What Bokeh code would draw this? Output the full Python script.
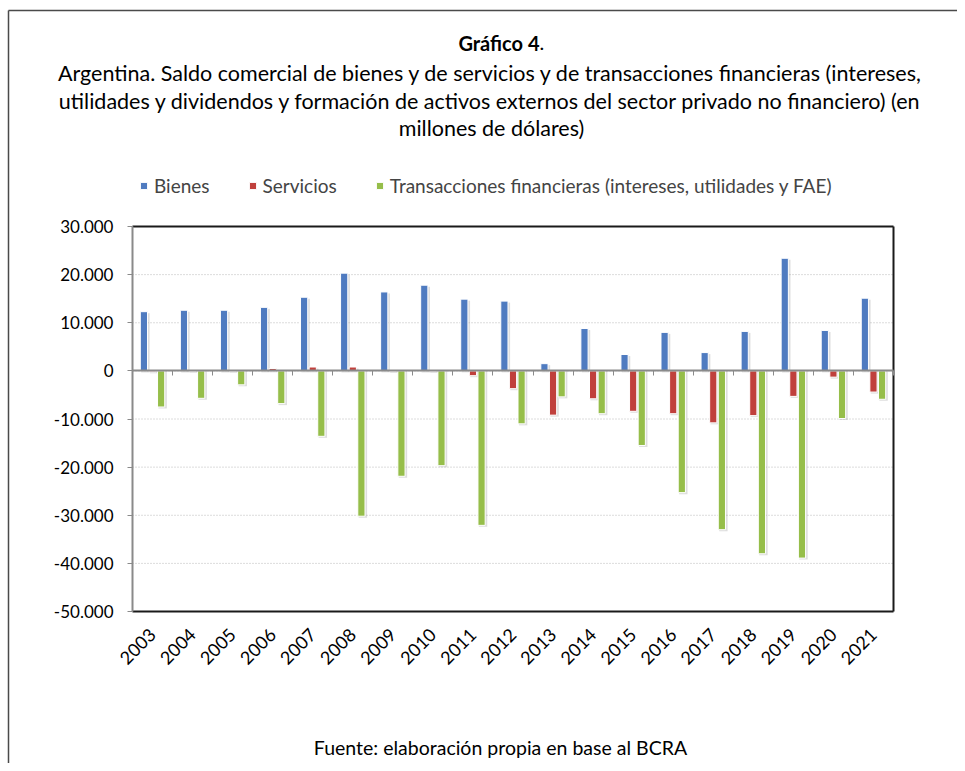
from bokeh.plotting import figure
from bokeh.models import Range1d, FixedTicker, LinearAxis, Label, Legend, LegendItem
from bokeh.embed import file_html
from bokeh.resources import INLINE

years = ["2003", "2004", "2005", "2006", "2007", "2008", "2009", "2010", "2011", "2012",
         "2013", "2014", "2015", "2016", "2017", "2018", "2019", "2020", "2021"]
bienes = [12300, 12600, 12600, 13200, 15300, 20300, 16400, 17800, 14900, 14500,
          1500, 8800, 3400, 8000, 3800, 8200, 23400, 8400, 15100]
servicios = [-200, -100, -100, 500, 800, 800, -100, -100, -1000, -3700,
             -9200, -5800, -8400, -8900, -10800, -9300, -5300, -1300, -4400]
transacciones = [-7500, -5700, -2900, -6800, -13600, -30200, -21900, -19700, -32100, -11000,
                 -5400, -8900, -15500, -25300, -33000, -38000, -38900, -9900, -5900]
y_ticks = [-50000, -40000, -30000, -20000, -10000, 0, 10000, 20000, 30000]
y_tick_labels = ["-50.000", "-40.000", "-30.000", "-20.000", "-10.000", "0",
                 "10.000", "20.000", "30.000"]
series_names = ["Bienes", "Servicios", "Transacciones financieras (intereses, utilidades y FAE)"]
colors = ["#4F7BC0", "#C0403C", "#96BE4A"]

FONT = "Lato"
W, H = 957, 763
# plot-area placement in pixels (whole canvas is the bokeh frame)
PL, PR, PT, PB = 132, 893, 226, 611
n = len(years)
ymin, ymax = y_ticks[0], y_ticks[-1]
ppc = (PR - PL) / n
upp = (ymax - ymin) / (PB - PT)

def xd(px):
    return (px - PL) / ppc

def yd(py):
    return ymax - (py - PT) * upp

p = figure(width=W, height=H, output_backend="svg", toolbar_location=None,
           x_range=Range1d(xd(0), xd(W)), y_range=Range1d(yd(H), yd(0)),
           min_border=0, min_border_left=0, min_border_right=0,
           min_border_top=0, min_border_bottom=0,
           x_axis_location=None, y_axis_location=None)
p.background_fill_color = "white"
p.border_fill_color = "white"
p.outline_line_color = None
p.xgrid.visible = False
p.ygrid.visible = False

# outer frame of the figure box (top and left edges)
p.line(x=[xd(8), xd(W + 40)], y=[yd(10), yd(10)], line_color="#4a4a4a", line_width=1.5)
p.line(x=[xd(8), xd(8)], y=[yd(10), yd(H + 40)], line_color="#4a4a4a", line_width=1.5)

# dotted horizontal grid
grid_vals = y_ticks[1:-1]
p.segment(x0=[0] * len(grid_vals), x1=[n] * len(grid_vals), y0=grid_vals, y1=grid_vals,
          line_color="#b8b8b8", line_dash="1 2", line_width=1)

# bars with soft shadow
x = list(range(n))
off = 0.215
bw = 0.18
sdx = 1.5 / ppc
for k, vals in enumerate([bienes, servicios, transacciones]):
    xs = [i + 0.5 + (k - 1) * off for i in x]
    p.vbar(x=[v + sdx for v in xs], top=[v - 1.5 * upp for v in vals],
           bottom=[-1.5 * upp if v > 0 else 0 for v in vals], width=bw + 0.03,
           fill_color="#8a8a8a", fill_alpha=0.28, line_color=None)
bar_renderers = []
for k, (vals, col) in enumerate(zip([bienes, servicios, transacciones], colors)):
    xs = [i + 0.5 + (k - 1) * off for i in x]
    bar_renderers.append(p.vbar(x=xs, top=vals, bottom=0, width=bw, fill_color=col,
                                line_color="white", line_width=1))

# plot border (top, right, bottom dark)
p.segment(x0=[0, n, 0], y0=[ymax, ymax, ymin], x1=[n, n, n], y1=[ymax, ymin, ymin],
          line_color="#1a1a1a", line_width=2)

# y axis
ya = LinearAxis(fixed_location=0, ticker=FixedTicker(ticks=y_ticks), bounds=(ymin, ymax))
ya.major_label_overrides = {t: s for t, s in zip(y_ticks, y_tick_labels)}
ya.major_label_text_font = FONT
ya.major_label_text_font_size = "17px"
ya.major_label_text_color = "#000000"
ya.axis_line_color = "#8a8a8a"
ya.axis_line_width = 2
ya.major_tick_line_color = "#8a8a8a"
ya.major_tick_in = 0
ya.major_tick_out = 5
ya.minor_tick_line_color = None
ya.major_label_standoff = 14
p.add_layout(ya, "left")

# category axis at zero with boundary ticks
za = LinearAxis(fixed_location=0, ticker=FixedTicker(ticks=list(range(n + 1))), bounds=(0, n))
za.major_label_text_font_size = "0px"
za.major_label_text_alpha = 0
za.axis_line_color = "#8a8a8a"
za.axis_line_width = 2
za.major_tick_line_color = "#8a8a8a"
za.major_tick_in = 0
za.major_tick_out = 5
za.minor_tick_line_color = None
p.add_layout(za, "below")

# year labels along the bottom
xa = LinearAxis(fixed_location=ymin, ticker=FixedTicker(ticks=[i + 0.5 for i in x]), bounds=(0, n))
xa.major_label_overrides = {i + 0.5: y for i, y in zip(x, years)}
xa.major_label_orientation = 0.785398
xa.major_label_text_font = FONT
xa.major_label_text_font_size = "18px"
xa.major_label_text_color = "#000000"
xa.axis_line_color = None
xa.major_tick_line_color = None
xa.major_tick_out = 0
xa.major_tick_in = 0
xa.minor_tick_line_color = None
xa.major_label_standoff = 20
p.add_layout(xa, "below")

def lab(text, cx, cy, size, bold=False, align="center"):
    p.add_layout(Label(x=xd(cx), y=yd(cy), text=text,
                       text_font=FONT, text_font_size=size, text_align=align,
                       text_baseline="middle", text_color="#000000",
                       text_font_style="bold" if bold else "normal"))

lab("Gráfico 4", 539, 42, "20px", bold=True, align="right")
lab(".", 539, 42, "20px", align="left")
lab("Argentina. Saldo comercial de bienes y de servicios y de transacciones financieras (intereses,",
    490, 72, "21.5px")
lab("utilidades y dividendos y formación de activos externos del sector privado no financiero) (en",
    490, 100, "21.5px")
lab("millones de dólares)", 491, 127, "21.5px")
lab("Fuente: elaboración propia en base al BCRA", 500, 747, "19.5px")

items = []
for name, r in zip(series_names, bar_renderers):
    items.append(LegendItem(label=name, renderers=[r]))
leg = Legend(items=items, orientation="horizontal", location=(139, H - 197),
             label_text_font=FONT, label_text_font_size="19px", glyph_width=9, glyph_height=9,
             label_standoff=6, spacing=38, padding=0, margin=0, border_line_color=None,
             background_fill_alpha=0, label_height=22)
p.add_layout(leg, "center")

open("out.html", "w").write(file_html(p, INLINE))
